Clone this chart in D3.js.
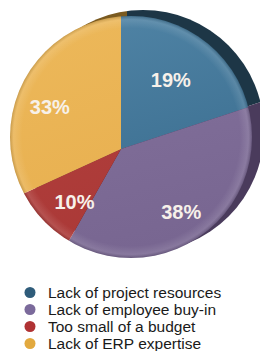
<!DOCTYPE html>
<html><head><meta charset="utf-8">
<script src="https://cdn.jsdelivr.net/npm/d3@7"></script>
<style>html,body{margin:0;padding:0;background:#fff;}svg{display:block;}</style>
</head><body>
<svg id="chart" width="260" height="351"></svg>
<script>
const categories = ["Lack of project resources","Lack of employee buy-in","Too small of a budget","Lack of ERP expertise"];
const values = [19, 38, 10, 33];
const valueLabels = ["19%", "38%", "10%", "33%"];
const topColors = ["#6196b7", "#85739e", "#b13f3c", "#f3c469"];
const bottomColors = ["#3f7294", "#6d5b86", "#a53433", "#e8b050"];
const sideColors = ["#1d3646", "#4a3b5c", "#5a1f1f", "#7a5a20"];
const legendColors = ["#2f5c7a", "#7b6a9b", "#b03234", "#e2a93f"];

const svg = d3.select("#chart");
const defs = svg.append("defs");

const vx = 121, vy = 149;           // wedge vertex
const cx = 131, cy = 137, R = 121;  // outline
const tilt = 0.83;                  // perspective squash of the wedge plane
const shadowDx = 6, shadowDy = -3;

defs.append("clipPath").attr("id","outline")
  .append("circle").attr("cx", cx - vx).attr("cy", cy - vy).attr("r", R);
defs.append("clipPath").attr("id","side")
  .append("circle").attr("cx", cx - vx + shadowDx).attr("cy", cy - vy + shadowDy).attr("r", R);

categories.forEach((c,i)=>{
  const g = defs.append("linearGradient").attr("id","g"+i)
    .attr("x1","0").attr("y1","0").attr("x2","0.3").attr("y2","1");
  g.append("stop").attr("offset","0").attr("stop-color", topColors[i]);
  g.append("stop").attr("offset","1").attr("stop-color", bottomColors[i]);
});
const rg = defs.append("radialGradient").attr("id","rim").attr("cx","0.5").attr("cy","0.5").attr("r","0.5");
rg.append("stop").attr("offset","0.9").attr("stop-color","#fff").attr("stop-opacity",0);
rg.append("stop").attr("offset","0.97").attr("stop-color","#fff").attr("stop-opacity",0.12);
rg.append("stop").attr("offset","1").attr("stop-color","#000").attr("stop-opacity",0.15);

const pie = d3.pie().sort(null).value(d => d);
const arcs = pie(values);
const bigArc = d3.arc().innerRadius(0).outerRadius(400);

// 3D side / shadow
const side = svg.append("g").attr("transform", `translate(${vx + shadowDx},${vy + shadowDy})`)
  .attr("clip-path","url(#side)")
  .append("g").attr("transform", `scale(1,${tilt})`);
side.selectAll("path").data(arcs).join("path")
  .attr("d", bigArc).attr("fill", (d,i)=>sideColors[i]);

// main pie
const main = svg.append("g").attr("transform", `translate(${vx},${vy})`)
  .attr("clip-path","url(#outline)")
  .append("g").attr("transform", `scale(1,${tilt})`);
main.selectAll("path").data(arcs).join("path")
  .attr("d", bigArc).attr("fill", (d,i)=>`url(#g${i})`);
svg.append("circle").attr("cx", cx).attr("cy", cy).attr("r", R).attr("fill","url(#rim)");

// labels
const labelArc = d3.arc();
svg.append("g").attr("transform", `translate(${vx},${vy})`)
  .selectAll("text").data(arcs).join("text")
  .attr("transform", d => {
    const r = d.value < 15 ? 71 : 85;
    const c = labelArc.innerRadius(r).outerRadius(r).centroid(d);
    return `translate(${c[0] + 2},${c[1] + 1})`;
  })
  .attr("text-anchor","middle").attr("dy","0.36em")
  .attr("fill","#f7f1ea")
  .style("font-family","Arial, 'Liberation Sans', sans-serif")
  .style("font-weight","bold").style("font-size","20px")
  .text((d,i)=>valueLabels[i]);

// legend
const y = d3.scaleBand().domain(categories).range([284, 352]).paddingInner(0);
const leg = svg.append("g");
const rows = leg.selectAll("g").data(categories).join("g")
  .attr("transform", d => `translate(0,${y(d) + y.bandwidth()/2})`);
rows.append("circle").attr("cx", 30).attr("cy", 0).attr("r", 5.5)
  .attr("fill", (d,i)=>legendColors[i]);
rows.append("text").attr("x", 48).attr("dy","0.36em")
  .attr("fill","#1a1a1a")
  .style("font-family","Arial, 'Liberation Sans', sans-serif")
  .style("font-size","15.5px")
  .text(d=>d);
</script>
</body></html>
